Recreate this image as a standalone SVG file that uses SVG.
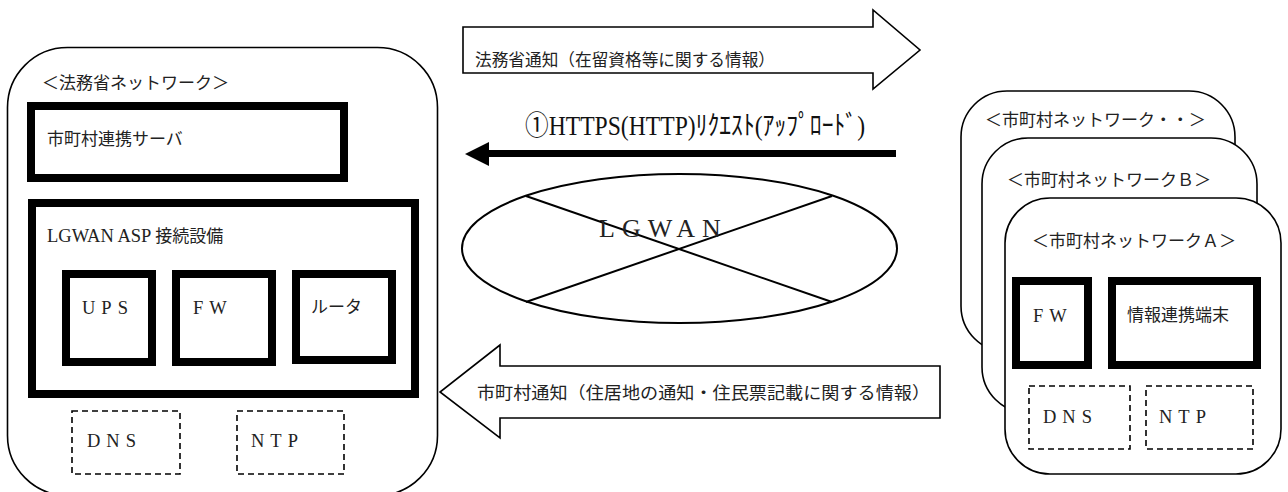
<svg xmlns="http://www.w3.org/2000/svg" width="1288" height="492" viewBox="0 0 1288 492">
<style>
.card{fill:#fff;stroke:#000;stroke-width:1.6}
.thick{fill:#fff;stroke:#000;stroke-width:8}
.dash{fill:#fff;stroke:#000;stroke-width:1.6;stroke-dasharray:6 4}
.outline{fill:#fff;stroke:#000;stroke-width:1.6;stroke-linejoin:miter}
.jp{font-family:"Noto Sans CJK JP","Liberation Serif",sans-serif;font-size:17px;fill:#222}
.lat{font-family:"Liberation Serif","Noto Sans CJK JP",serif;font-size:18.5px;fill:#222;letter-spacing:6px}
</style>
<rect width="1288" height="492" fill="#fff"/>

<g id="houmusho-network">
<rect class="card" x="7.5" y="47.5" width="430" height="448" rx="60"/>
<text class="jp" x="42" y="89">＜法務省ネットワーク＞</text>
</g>
<g id="renkei-server">
<rect class="thick" x="31" y="106" width="313" height="72"/>
<text class="jp" x="47" y="145">市町村連携サーバ</text>
</g>
<g id="asp-equipment">
<rect class="thick" x="32" y="203" width="383" height="191"/>
<text class="jp" x="47" y="242"><tspan font-family="Liberation Serif, serif" font-size="18.5">LGWAN ASP </tspan>接続設備</text>
</g>
<g id="ups">
<rect class="thick" x="66" y="274" width="86" height="88"/>
<text class="lat" x="82" y="314">UPS</text>
</g>
<g id="fw-left">
<rect class="thick" x="176" y="274" width="96" height="88"/>
<text class="lat" x="193" y="314">FW</text>
</g>
<g id="router">
<rect class="thick" x="296" y="274" width="96" height="86"/>
<text class="jp" x="311" y="313">ルータ</text>
</g>
<g id="dns-left">
<rect class="dash" x="72" y="411" width="108" height="63"/>
<text class="lat" x="87" y="447">DNS</text>
</g>
<g id="ntp-left">
<rect class="dash" x="237" y="411" width="107" height="63"/>
<text class="lat" x="251" y="447">NTP</text>
</g>

<g id="lgwan">
<ellipse cx="679.5" cy="248.5" rx="217.5" ry="74.5" fill="#fff" stroke="#000" stroke-width="2"/>
<line x1="526" y1="196" x2="832" y2="302" stroke="#000" stroke-width="2"/>
<line x1="526" y1="302" x2="832" y2="196" stroke="#000" stroke-width="2"/>
<text x="599" y="237" font-family="Liberation Serif, serif" font-size="26" letter-spacing="7" fill="#222">LGWAN</text>
</g>

<g id="shichoson-network-etc">
<rect class="card" x="961" y="91" width="274" height="261" rx="46"/>
<text class="jp" x="985" y="126">＜市町村ネットワーク・・＞</text>
</g>
<g id="shichoson-network-b">
<rect class="card" x="982" y="138" width="275" height="275" rx="46"/>
<text class="jp" x="1007" y="186">＜市町村ネットワークＢ＞</text>
</g>
<g id="shichoson-network-a">
<rect class="card" x="1005" y="198" width="276" height="276" rx="45"/>
<text class="jp" x="1032" y="247">＜市町村ネットワークＡ＞</text>
</g>
<g id="fw-right">
<rect class="thick" x="1016" y="281" width="72" height="84"/>
<text class="lat" x="1033" y="322">FW</text>
</g>
<g id="renkei-terminal">
<rect class="thick" x="1112" y="281" width="145" height="84"/>
<text class="jp" x="1127" y="321">情報連携端末</text>
</g>
<g id="dns-right">
<rect class="dash" x="1029" y="386" width="101" height="63"/>
<text class="lat" x="1043" y="423">DNS</text>
</g>
<g id="ntp-right">
<rect class="dash" x="1146" y="386" width="107" height="63"/>
<text class="lat" x="1159" y="423">NTP</text>
</g>

<g id="connectors">
<polygon class="outline" points="463,27 873,27 873,10 920,50 873,89 873,73 463,73"/>
<text class="jp" x="475" y="66" textLength="300" lengthAdjust="spacingAndGlyphs">法務省通知（在留資格等に関する情報）</text>
<line x1="896" y1="153.5" x2="486" y2="153.5" stroke="#000" stroke-width="7"/>
<polygon points="465,154 489,142 489,166" fill="#000"/>
<text x="525" y="135" font-family="Liberation Serif, Noto Sans CJK JP, serif" font-size="27" fill="#111" textLength="340" lengthAdjust="spacingAndGlyphs">①HTTPS(HTTP)ﾘｸｴｽﾄ(ｱｯﾌﾟﾛｰﾄﾞ)</text>
<polygon class="outline" points="940,366 500,366 500,345 440,392 500,438 500,418 940,418"/>
<text class="jp" x="477" y="399" textLength="453" lengthAdjust="spacingAndGlyphs">市町村通知（住居地の通知・住民票記載に関する情報）</text>
</g>
</svg>
